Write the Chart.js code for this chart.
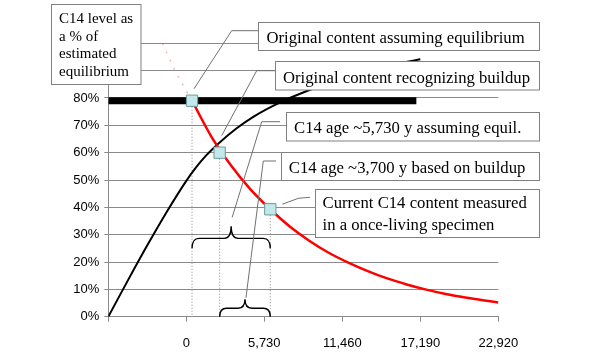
<!DOCTYPE html>
<html>
<head>
<meta charset="utf-8">
<script src="https://cdn.jsdelivr.net/npm/chart.js@4"></script>
<style>
  html, body { margin: 0; padding: 0; background: #fff; }
</style>
</head>
<body>
<canvas id="c14-chart" width="600" height="353"></canvas>
<script>
// axis ticks
const xTicks = [-5730, 0, 5730, 11460, 17190, 22920];
const xTickLabels = ["", "0", "5,730", "11,460", "17,190", "22,920"];

// red curve: decay of the sample (years, % of equilibrium)
const decayYears = [420, 1850, 3290, 4730, 6170, 7600, 9030, 10460, 11900, 13330, 14760, 16190, 17630, 19060, 20490, 21920, 22920];
const decayPct = [79, 65.8, 55.3, 46.5, 39.3, 33, 27.8, 23.4, 19.8, 16.7, 14, 11.8, 9.9, 8.3, 7, 5.9, 5.2];

// faint part of the red curve above the start point
const fadedYears = [-1760, -800, 420];
const fadedPct = [100, 89.6, 79];

// black curve: buildup
const buildupYears = [-5730, -4300, -2865, -1430, 0, 700, 1430, 2450, 3700, 4950, 6900, 9100, 11460, 14000, 17190];
const buildupPct = [0, 13.2, 26.1, 38.4, 49.7, 54.5, 58.8, 63.7, 68.9, 73.2, 78.4, 83, 87.2, 91, 94.2];

// thick equilibrium line
const equilYears = [-5730, 16900];
const equilPct = [79, 79];

// square markers
const markerYears = [420, 2450, 6170];
const markerPct = [79, 60, 39.3];

const gridColor = "#8a8a8a";
const sansFont = "'Liberation Sans', Arial, sans-serif";
const serifFont = "'Liberation Serif', 'Times New Roman', serif";

const toPoints = (xs, ys) => xs.map((x, i) => ({ x: x, y: ys[i] }));

const datasets = [
  {
    data: toPoints(markerYears, markerPct),
    showLine: false,
    pointStyle: "rect",
    pointRadius: 8,
    pointBackgroundColor: "#c2e8ea",
    pointBorderColor: "#6a9ca0",
    pointBorderWidth: 1,
    order: 0,
  },
  {
    data: toPoints(decayYears, decayPct),
    showLine: true,
    borderColor: "#ff0000",
    borderWidth: 2.5,
    pointRadius: 0,
    cubicInterpolationMode: "monotone",
    order: 1,
  },
  {
    data: toPoints(fadedYears, fadedPct),
    showLine: true,
    borderColor: "rgba(255,0,0,0.3)",
    borderWidth: 1.5,
    borderDash: [2, 7],
    pointRadius: 0,
    order: 1,
  },
  {
    data: toPoints(buildupYears, buildupPct),
    showLine: true,
    borderColor: "#000",
    borderWidth: 2,
    pointRadius: 0,
    cubicInterpolationMode: "monotone",
    order: 2,
  },
  {
    data: toPoints(equilYears, equilPct),
    showLine: true,
    borderColor: "#000",
    borderWidth: 7,
    pointRadius: 0,
    order: 3,
  },
];

// dotted drop lines from each marker down to 0%
markerYears.forEach((yr, i) => {
  datasets.push({
    data: [{ x: yr, y: markerPct[i] }, { x: yr, y: 0 }],
    showLine: true,
    borderColor: "#888",
    borderWidth: 1,
    borderDash: [1, 2],
    pointRadius: 0,
    order: 4,
  });
});

// text boxes (pixel layout)
const notes = [
  { rect: [51.5, 4.5, 89.5, 80], x: 59, base: 22.7, lh: 17.8, size: 15,
    lines: ["C14 level as", "a % of", "estimated", "equilibrium"] },
  { rect: [258.5, 22.5, 281, 28], x: 266.5, base: 43.3, lh: 0, size: 16.7,
    lines: ["Original content assuming equilibrium"] },
  { rect: [275.5, 61.5, 264, 28.5], x: 283, base: 82.7, lh: 0, size: 16.7,
    lines: ["Original content recognizing buildup"] },
  { rect: [286.5, 112.5, 253, 28.5], x: 294, base: 133.4, lh: 0, size: 16.7,
    lines: ["C14 age ~5,730 y assuming equil."] },
  { rect: [281.5, 152.5, 258, 28], x: 288.8, base: 172.8, lh: 0, size: 16.7,
    lines: ["C14 age ~3,700 y based on buildup"] },
  { rect: [315.5, 189.5, 224, 48], x: 322.5, base: 208.4, lh: 21.6, size: 16.7,
    lines: ["Current C14 content measured", "in a once-living specimen"] },
];

function drawBrace(ctx, xL, xR, yEnd, yMid, yTip) {
  const xc = (xL + xR) / 2;
  const r = 7;
  ctx.beginPath();
  ctx.moveTo(xL, yEnd);
  ctx.quadraticCurveTo(xL, yMid, xL + r, yMid);
  ctx.lineTo(xc - r, yMid);
  ctx.quadraticCurveTo(xc, yMid, xc, yTip);
  ctx.quadraticCurveTo(xc, yMid, xc + r, yMid);
  ctx.lineTo(xR - r, yMid);
  ctx.quadraticCurveTo(xR, yMid, xR, yEnd);
  ctx.stroke();
}

const annotations = {
  id: "annotations",
  afterDraw(chart) {
    const ctx = chart.ctx;
    const xs = chart.scales.x, ys = chart.scales.y;
    const mx = markerYears.map(v => xs.getPixelForValue(v));
    const my = markerPct.map(v => ys.getPixelForValue(v));

    // braces
    ctx.save();
    ctx.strokeStyle = "#000";
    ctx.lineWidth = 1.4;
    const b1 = ys.getPixelForValue(25);
    drawBrace(ctx, mx[0], mx[2], b1, b1 - 10, b1 - 22);
    const b2 = ys.getPixelForValue(0);
    drawBrace(ctx, mx[1], mx[2], b2, b2 - 8.5, b2 - 17.5);
    const tip1 = { x: (mx[0] + mx[2]) / 2, y: b1 - 22 };
    const tip2 = { x: (mx[1] + mx[2]) / 2, y: b2 - 17.5 };
    ctx.restore();

    // leader lines
    const leaders = [
      [[258.5, 30.7], [231.7, 30.7], [mx[0] + 2, my[0] - 12]],
      [[275.5, 70.7], [256.7, 70.7], [mx[1] + 2, my[1] - 17]],
      [[280, 121.7], [261.7, 121.7], [tip1.x + 1, tip1.y - 9]],
      [[276, 161], [263.3, 161], [tip2.x + 1, tip2.y - 1.5]],
      [[310, 197.3], [298.3, 198.3], [mx[2] + 12, my[2] - 5]],
    ];
    ctx.save();
    ctx.strokeStyle = "#707070";
    ctx.lineWidth = 1;
    leaders.forEach(pts => {
      ctx.beginPath();
      ctx.moveTo(pts[0][0], pts[0][1]);
      for (let i = 1; i < pts.length; i++) ctx.lineTo(pts[i][0], pts[i][1]);
      ctx.stroke();
    });
    ctx.restore();

    // boxes with text
    ctx.save();
    notes.forEach(n => {
      ctx.fillStyle = "#fff";
      ctx.fillRect(n.rect[0], n.rect[1], n.rect[2], n.rect[3]);
      ctx.strokeStyle = "#808080";
      ctx.lineWidth = 1;
      ctx.strokeRect(n.rect[0], n.rect[1], n.rect[2], n.rect[3]);
      ctx.fillStyle = "#000";
      ctx.font = n.size + "px " + serifFont;
      ctx.textAlign = "left";
      ctx.textBaseline = "alphabetic";
      n.lines.forEach((line, i) => ctx.fillText(line, n.x, n.base + i * n.lh));
    });
    ctx.restore();
  },
};

const canvasChart = document.querySelector("#c14-chart");

const config = {
  type: "scatter",
  data: { datasets: datasets },
  options: {
    responsive: false,
    animation: false,
    layout: { padding: { top: 43.3, right: 101.7, left: 0, bottom: 0 } },
    plugins: { legend: { display: false }, tooltip: { enabled: false } },
    scales: {
      x: {
        type: "linear",
        min: -5730,
        max: 22920,
        afterBuildTicks: s => { s.ticks = xTicks.map(v => ({ value: v })); },
        ticks: {
          callback: v => { const i = xTicks.indexOf(v); return i < 0 ? "" : xTickLabels[i]; },
          font: { family: sansFont, size: 13 },
          color: "#000",
          padding: 14,
          maxRotation: 0,
          autoSkip: false,
        },
        grid: { drawOnChartArea: false, drawTicks: true, tickLength: 5, color: gridColor },
        border: { color: gridColor },
        afterFit: s => { s.height = 36.3; },
      },
      y: {
        min: 0,
        max: 100,
        ticks: {
          stepSize: 10,
          callback: v => v + "%",
          font: { family: sansFont, size: 13 },
          color: "#000",
          padding: 5,
        },
        grid: { color: gridColor, tickLength: 4 },
        border: { color: gridColor },
        afterFit: s => { s.width = 108.3; },
      },
    },
  },
  plugins: [annotations],
};

const c14Chart = new Chart(canvasChart, config);
</script>
</body>
</html>
